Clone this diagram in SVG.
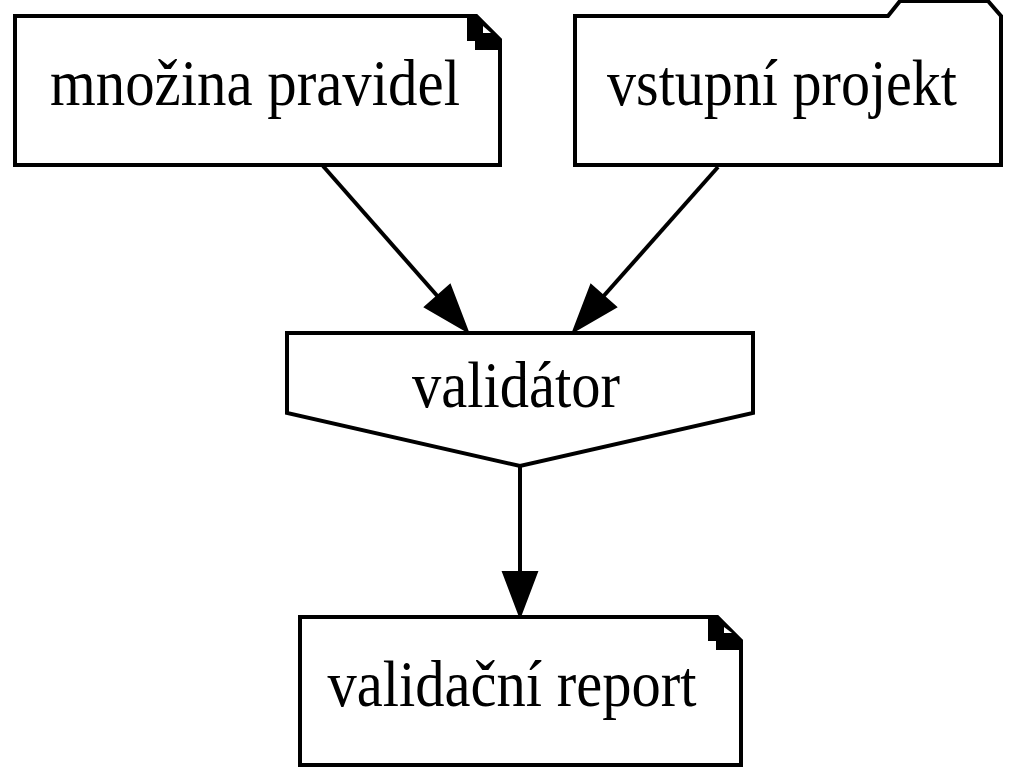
<svg xmlns="http://www.w3.org/2000/svg" width="1017" height="783" viewBox="0 0 1017 783">
<style>
.shape{fill:#fff;stroke:#000;stroke-width:4;stroke-linejoin:miter}
.edge{fill:none;stroke:#000;stroke-width:4}
.head{fill:#000;stroke:#000;stroke-width:2}
.fold{fill:#000;stroke:none}
.lbl{font-family:"Liberation Serif","Times New Roman",serif;font-size:66px;fill:#000;text-anchor:middle}
</style>
<rect width="1017" height="783" fill="#fff"/>
<g id="connectors">
<path class="edge" d="M323,166 L440,299"/>
<polygon class="head" points="425,307 450,285 468,332"/>
<path class="edge" d="M718,167 L601,299"/>
<polygon class="head" points="616,307 591,285 573,332"/>
<path class="edge" d="M520,466 L520,574"/>
<polygon class="head" points="503,572 537,572 520,617"/>
</g>
<g id="node-mnozina">
<polygon class="shape" points="15,16 476,16 500,40 500,165 15,165"/>
<polygon class="fold" points="467,14 477,14 502,39 502,50 475,50 475,41 467,41"/>
<polygon points="483,26 483,33 491,33" fill="#fff"/>
<text class="lbl" x="255" y="105" textLength="410" lengthAdjust="spacingAndGlyphs">množina pravidel</text>
</g>
<g id="node-vstupni">
<polygon class="shape" points="575,16 888,16 900,1 988,1 1001,16 1001,165 575,165"/>
<text class="lbl" x="782" y="105" textLength="350" lengthAdjust="spacingAndGlyphs">vstupní projekt</text>
</g>
<g id="node-validator">
<polygon class="shape" points="287,333 753,333 753,413 520,466 287,413"/>
<text class="lbl" x="516" y="407" textLength="208" lengthAdjust="spacingAndGlyphs">validátor</text>
</g>
<g id="node-report">
<polygon class="shape" points="300,617 717,617 741,641 741,765 300,765"/>
<polygon class="fold" points="708,615 718,615 743,640 743,650 716,650 716,641 708,641"/>
<polygon points="724,627 724,633 732,633" fill="#fff"/>
<text class="lbl" x="512" y="706" textLength="369" lengthAdjust="spacingAndGlyphs">validační report</text>
</g>
</svg>
